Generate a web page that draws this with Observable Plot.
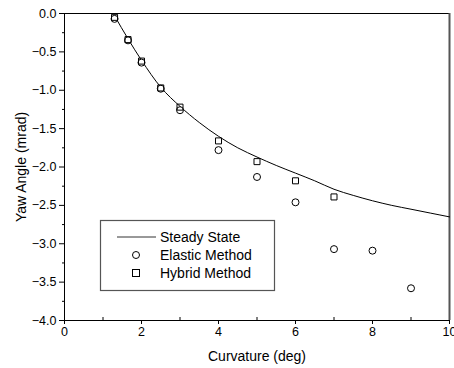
<!DOCTYPE html>
<html>
<head>
<meta charset="utf-8">
<script src="https://cdn.jsdelivr.net/npm/d3@7"></script>
<script src="https://cdn.jsdelivr.net/npm/@observablehq/plot@0.6"></script>
<style>
  html, body { margin: 0; padding: 0; background: #fff; }
  #chart { position: relative; width: 454px; height: 368px; }
  svg { font-family: "Liberation Sans", Arial, sans-serif; }
</style>
</head>
<body>
<div id="chart"></div>
<script>
// Steady State (line)
const steadyX = [1.3, 1.65, 2, 2.5, 3, 3.5, 4, 4.5, 5, 5.5, 6, 6.5, 7, 7.5, 8, 8.5, 9, 9.5, 10];
const steadyY = [-0.03, -0.33, -0.61, -0.96, -1.21, -1.42, -1.6, -1.75, -1.87, -1.98, -2.08, -2.18, -2.29, -2.37, -2.44, -2.5, -2.55, -2.6, -2.65];
// Elastic Method (circles)
const elasticX = [1.3, 1.65, 2, 2.5, 3, 4, 5, 6, 7, 8, 9];
const elasticY = [-0.07, -0.35, -0.64, -0.98, -1.26, -1.78, -2.13, -2.46, -3.07, -3.09, -3.58];
// Hybrid Method (squares)
const hybridX = [1.3, 1.65, 2, 2.5, 3, 4, 5, 6, 7];
const hybridY = [-0.05, -0.34, -0.62, -0.97, -1.22, -1.66, -1.93, -2.18, -2.39];

const xTicks = [0, 2, 4, 6, 8, 10];
const xMinor = [1, 3, 5, 7, 9];
const yTicks = [0, -0.5, -1, -1.5, -2, -2.5, -3, -3.5, -4];
const yMinor = [-0.25, -0.75, -1.25, -1.75, -2.25, -2.75, -3.25, -3.75];
const legendLabels = ["Steady State", "Elastic Method", "Hybrid Method"];

const steady = steadyX.map((x, i) => ({x, y: steadyY[i]}));
const elastic = elasticX.map((x, i) => ({x, y: elasticY[i]}));
const hybrid = hybridX.map((x, i) => ({x, y: hybridY[i]}));

const chart = Plot.plot({
  width: 454,
  height: 368,
  marginLeft: 64,
  marginRight: 5,
  marginTop: 13,
  marginBottom: 48,
  style: {fontFamily: "'Liberation Sans', Arial, sans-serif", fontSize: "12.5px", background: "#fff", color: "#000"},
  x: {domain: [0, 10]},
  y: {domain: [-4, 0]},
  marks: [
    Plot.frame({stroke: "#000", strokeWidth: 1}),
    Plot.ruleX([10], {stroke: "#555", strokeWidth: 2}),
    Plot.axisX({ticks: xTicks, tickSize: 4, tickPadding: 3, tickFormat: d => String(d),
      label: "Curvature (deg)", labelAnchor: "center", labelArrow: "none", labelOffset: 40, fontSize: 12.5}),
    Plot.axisX({ticks: xMinor, tickSize: -3, tickFormat: () => "", label: null}),
    Plot.axisY({ticks: yTicks, tickSize: 5, tickPadding: 3, tickFormat: d3.format(".1f"),
      label: "Yaw Angle (mrad)", labelAnchor: "center", labelArrow: "none", labelOffset: 48, fontSize: 12.5}),
    Plot.axisY({ticks: yMinor, tickSize: 2, tickFormat: () => "", label: null}),
    Plot.line(steady, {x: "x", y: "y", curve: "monotone-x", stroke: "#000", strokeWidth: 1}),
    Plot.dot(elastic, {x: "x", y: "y", r: 3.5, stroke: "#000", strokeWidth: 1, fill: "#fff", symbol: "circle"}),
    Plot.dot(hybrid, {x: "x", y: "y", r: 3.4, stroke: "#000", strokeWidth: 1, fill: "none", symbol: "square"})
  ]
});
document.getElementById("chart").appendChild(chart);

// axis title font size
d3.select(chart).selectAll("g[aria-label='x-axis label'] text, g[aria-label='y-axis label'] text")
  .attr("font-size", "14px");

// Legend box inside plot
const svg = d3.select(chart);
const lg = svg.append("g").attr("font-family", "'Liberation Sans', Arial, sans-serif")
  .attr("font-size", "14px").attr("text-anchor", "start");
lg.append("rect").attr("x", 100.5).attr("y", 220.5).attr("width", 174).attr("height", 70)
  .attr("fill", "#fff").attr("stroke", "#555").attr("stroke-width", 1.2);
const rowsY = [237, 255, 273];
lg.append("line").attr("x1", 117).attr("x2", 156).attr("y1", rowsY[0]).attr("y2", rowsY[0]).attr("stroke", "#333");
lg.append("circle").attr("cx", 136).attr("cy", rowsY[1]).attr("r", 3.5).attr("fill", "none").attr("stroke", "#000");
lg.append("rect").attr("x", 132.5).attr("y", rowsY[2] - 3.5).attr("width", 7).attr("height", 7).attr("fill", "none").attr("stroke", "#000");
legendLabels.forEach((t, i) => {
  lg.append("text").attr("x", 160).attr("y", rowsY[i]).attr("dy", "0.35em").attr("text-anchor", "start").text(t);
});
</script>
</body>
</html>
